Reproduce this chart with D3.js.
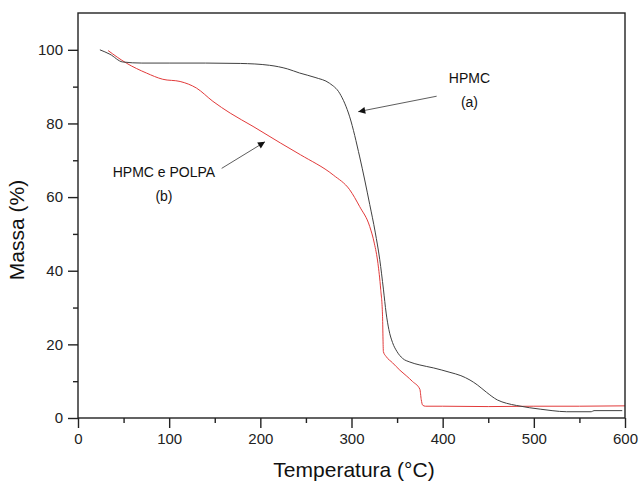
<!DOCTYPE html>
<html>
<head>
<meta charset="utf-8">
<script src="https://cdn.jsdelivr.net/npm/d3@7"></script>
<style>
  html, body { margin: 0; padding: 0; background: #fff; }
  svg { display: block; font-family: "Liberation Sans", Arial, sans-serif; }
</style>
</head>
<body>
<div id="chart"></div>
<script>
// HPMC (a) - black curve
const hpmcTemp = [24, 35, 49, 70, 100, 140, 178, 210, 230, 243, 260, 276, 287, 298, 309, 320, 326, 331, 335, 338, 341, 345, 350, 356, 364, 375, 390, 408, 420, 430, 438, 448, 460, 470, 481, 495, 507, 520, 536, 563, 566, 597];
const hpmcMass = [100, 98.8, 96.7, 96.4, 96.4, 96.4, 96.3, 95.8, 94.8, 93.7, 92.5, 90.9, 88.2, 81.8, 70.9, 58.0, 50.5, 43.0, 35.0, 28.5, 24.0, 20.5, 18.0, 16.2, 15.2, 14.4, 13.6, 12.4, 11.5, 10.3, 9.0, 7.0, 4.9, 4.0, 3.4, 2.8, 2.4, 2.0, 1.7, 1.7, 2.0, 2.0];

// HPMC e POLPA (b) - red curve
const polpaTemp = [33, 53, 75, 93, 112, 130, 148, 167, 192, 222, 244, 280, 298, 309, 320, 325, 329, 332, 334, 335, 338, 345, 353, 360, 367, 375, 376.5, 378, 381, 400, 450, 500, 550, 600];
const polpaMass = [99.8, 96.4, 93.7, 92.0, 91.4, 89.6, 86.0, 82.8, 79.2, 74.7, 71.5, 66.0, 62.0, 57.4, 52.0, 47.5, 42.0, 35.0, 28.0, 18.0, 16.7, 15.0, 13.0, 11.5, 9.9, 7.8, 5.0, 3.5, 3.2, 3.2, 3.1, 3.2, 3.2, 3.3];

const xTicks = [0, 100, 200, 300, 400, 500, 600];
const yTicks = [0, 20, 40, 60, 80, 100];

const width = 640, height = 482;
const margin = { left: 78, right: 15, top: 13, bottom: 64 };

const x = d3.scaleLinear().domain([0, 600]).range([margin.left, width - margin.right]);
const y = d3.scaleLinear().domain([0, 110]).range([height - margin.bottom, margin.top]);

const svg = d3.select("#chart").append("svg")
  .attr("width", width).attr("height", height);

const line = d3.line().x(d => x(d[0])).y(d => y(d[1])).curve(d3.curveMonotoneX);

svg.append("path")
  .datum(d3.zip(polpaTemp, polpaMass))
  .attr("d", line)
  .attr("fill", "none").attr("stroke", "#e23a3a").attr("stroke-width", 1);

svg.append("path")
  .datum(d3.zip(hpmcTemp, hpmcMass))
  .attr("d", line)
  .attr("fill", "none").attr("stroke", "#404040").attr("stroke-width", 1);

// frame
svg.append("rect")
  .attr("x", x(0)).attr("y", y(110))
  .attr("width", x(600) - x(0)).attr("height", y(0) - y(110))
  .attr("fill", "none").attr("stroke", "#222").attr("stroke-width", 1.4);

// minor ticks
const xMinor = d3.range(50, 600, 100);
const yMinor = d3.range(10, 110, 20);

const xAxis = svg.append("g").attr("transform", `translate(0,${y(0)})`);
xAxis.call(d3.axisBottom(x).tickValues(xTicks).tickSize(10).tickPadding(5).tickFormat(d3.format("d")));
xAxis.append("g").call(d3.axisBottom(x).tickValues(xMinor).tickSize(5).tickFormat(""));

const yAxis = svg.append("g").attr("transform", `translate(${x(0)},0)`);
yAxis.call(d3.axisLeft(y).tickValues(yTicks).tickSize(10).tickPadding(5).tickFormat(d3.format("d")));
yAxis.append("g").call(d3.axisLeft(y).tickValues(yMinor).tickSize(5).tickFormat(""));

svg.selectAll(".domain").remove();
svg.selectAll(".tick line").attr("stroke", "#222").attr("stroke-width", 1.4);
svg.selectAll(".tick text").attr("font-size", 15).attr("fill", "#222")
  .attr("font-family", "'Liberation Sans', Arial, sans-serif");

// axis titles
svg.append("text")
  .attr("x", 354).attr("y", 477)
  .attr("text-anchor", "middle").attr("font-size", 21).attr("fill", "#111")
  .text("Temperatura (°C)");

svg.append("text")
  .attr("transform", "translate(24,230) rotate(-90)")
  .attr("text-anchor", "middle").attr("font-size", 21).attr("fill", "#111")
  .text("Massa (%)");

// annotations
const defs = svg.append("defs");
defs.append("marker")
  .attr("id", "arr").attr("viewBox", "0 0 10 10")
  .attr("refX", 10).attr("refY", 5)
  .attr("markerWidth", 13).attr("markerHeight", 7)
  .attr("markerUnits", "userSpaceOnUse")
  .attr("orient", "auto")
  .append("path").attr("d", "M0,0 L10,5 L0,10 Z").attr("fill", "#111");

const notes = [
  { label: "HPMC", sub: "(a)", tx: 429.4, ty: 91.0, sy: 84.5, from: [393.4, 87.4], to: [307.4, 83.2] },
  { label: "HPMC e POLPA", sub: "(b)", tx: 94.3, ty: 65.5, sy: 58.9, from: [157.6, 67.8], to: [205.1, 75.0] }
];

notes.forEach(n => {
  svg.append("text").attr("x", x(n.tx)).attr("y", y(n.ty))
    .attr("text-anchor", "middle").attr("font-size", 14).attr("fill", "#111").text(n.label);
  svg.append("text").attr("x", x(n.tx)).attr("y", y(n.sy))
    .attr("text-anchor", "middle").attr("font-size", 14).attr("fill", "#111").text(n.sub);
  svg.append("line")
    .attr("x1", x(n.from[0])).attr("y1", y(n.from[1]))
    .attr("x2", x(n.to[0])).attr("y2", y(n.to[1]))
    .attr("stroke", "#333").attr("stroke-width", 0.8)
    .attr("marker-end", "url(#arr)");
});
</script>
</body>
</html>
